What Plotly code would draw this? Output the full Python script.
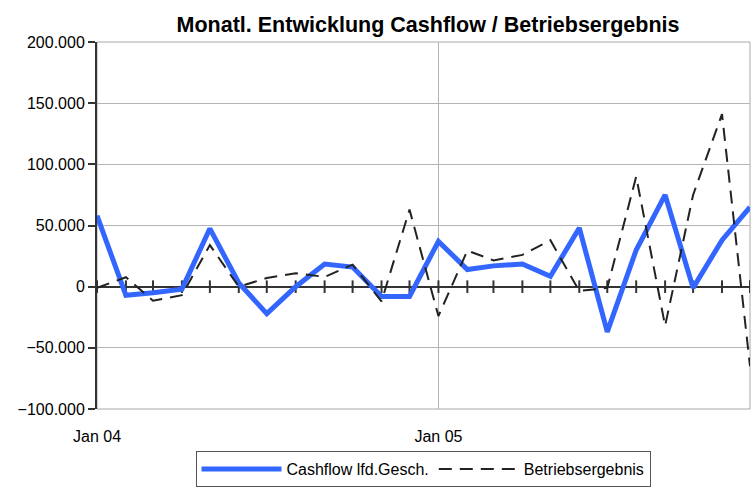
import pandas as pd
import plotly.graph_objects as go

months = pd.date_range("2004-01-01", periods=24, freq="MS")
cashflow = [58000, -7000, -5000, -2000, 47500, 3000, -22000, 0, 18500, 16000, -8000, -8000,
            37000, 14000, 17000, 18500, 8500, 48000, -37000, 30000, 75000, -1000, 38000, 65000]
betriebsergebnis = [-1000, 7700, -11500, -7000, 34000, 0, 7000, 11000, 8000, 18000, -12000, 63000,
                    -24000, 29500, 21500, 26000, 38000, -3500, -1000, 90000, -32000, 75000, 141000, -65000]
tick_vals = ["2004-01-01", "2005-01-01"]
tick_text = ["Jan 04", "Jan 05"]
y_ticks = [-100000, -50000, 0, 50000, 100000, 150000, 200000]

FONT = "Liberation Sans, Arial, sans-serif"

fig = go.Figure()

# month tick marks across the zero line
fig.add_trace(go.Scatter(
    x=months, y=[0] * len(months), mode="markers",
    marker=dict(symbol="line-ns", size=9, line=dict(width=2, color="#333333")),
    showlegend=False, hoverinfo="skip"))

fig.add_trace(go.Scatter(
    x=months, y=cashflow, mode="lines", name="Cashflow lfd.Gesch.",
    line=dict(color="rgb(51,102,255)", width=5)))

fig.add_trace(go.Scatter(
    x=months, y=betriebsergebnis, mode="lines", name="Betriebsergebnis",
    line=dict(color="#222222", width=2, dash="13px,8px")))

fig.update_layout(
    width=752, height=487,
    margin=dict(l=97, r=2, t=42, b=78),
    paper_bgcolor="white", plot_bgcolor="white",
    separators=",.",
    font=dict(family=FONT, size=16, color="#000000"),
    title=dict(text="<b>Monatl. Entwicklung Cashflow / Betriebsergebnis</b>",
               x=428 / 752, xanchor="center", xref="container",
               y=1 - 24 / 487, yanchor="middle", yref="container",
               font=dict(family=FONT, size=21.5, color="#000000")),
    legend=dict(orientation="h", x=(423 - 97) / 653, xanchor="center",
                yref="container", y=-8 / 487, yanchor="bottom",
                bordercolor="#555555", borderwidth=1, bgcolor="white",
                font=dict(family=FONT, size=16), itemwidth=80,
                tracegroupgap=0),
    shapes=[dict(type="rect", xref="paper", yref="paper", x0=0, x1=1, y0=0, y1=1,
                 line=dict(color="#a8a8a8", width=1), layer="below")],
)

fig.update_xaxes(
    range=["2004-01-01", "2005-12-01"],
    tickvals=tick_vals, ticktext=tick_text,
    showgrid=True, gridcolor="#b4b4b4", gridwidth=1,
    ticks="outside", ticklen=13, tickcolor="rgba(0,0,0,0)",
    showline=False, zeroline=False,
    tickfont=dict(family=FONT, size=16),
)

fig.update_yaxes(
    range=[-100000, 200000], tickvals=y_ticks, tickformat=",d",
    showgrid=True, gridcolor="#b4b4b4", gridwidth=1,
    zeroline=True, zerolinecolor="#333333", zerolinewidth=2,
    showline=True, linecolor="#333333", linewidth=2,
    ticks="outside", ticklen=7, tickwidth=2, tickcolor="#333333",
    tickfont=dict(family=FONT, size=16),
)

fig.write_html("out.html", config={"displayModeBar": False},
               post_script="document.body.style.margin='0px';")
